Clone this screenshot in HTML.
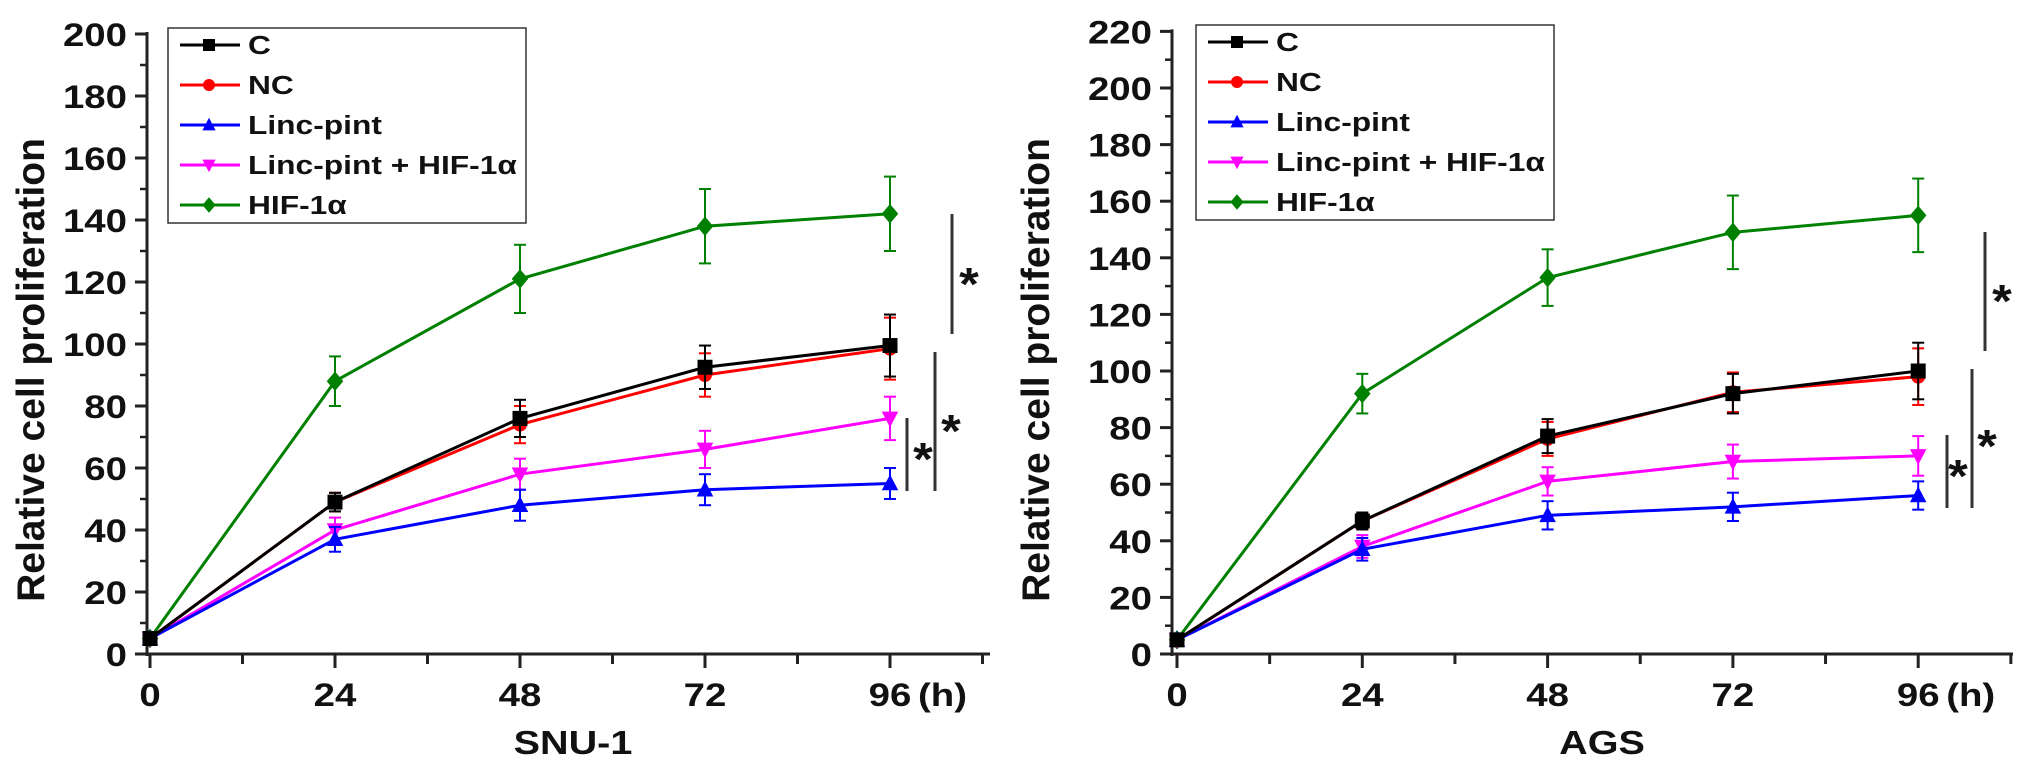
<!DOCTYPE html>
<html><head><meta charset="utf-8"><style>
html,body{margin:0;padding:0;background:#fff;}
svg{display:block;}
text{font-family:"Liberation Sans",Arial,sans-serif;font-weight:bold;fill:#111;}
</style></head><body>
<svg id="chart" width="2031" height="778" viewBox="0 0 2031 778" xmlns="http://www.w3.org/2000/svg"></svg>
<script>
const timepoints = [0, 24, 48, 72, 96];
const seriesNames = ["C", "NC", "Linc-pint", "Linc-pint + HIF-1\u03b1", "HIF-1\u03b1"];
const seriesColors = ["#000000", "#ff0000", "#0000ff", "#ff00ff", "#008000"];
const seriesMarkers = ["square", "circle", "triUp", "triDown", "diamond"];
// SNU-1
const snuC = [5, 49, 76, 92.5, 99.5];
const snuNC = [5, 49, 74, 90, 98.5];
const snuLinc = [5, 37, 48, 53, 55];
const snuLincHif = [5, 40, 58, 66, 76];
const snuHif = [5, 88, 121, 138, 142];
const snuErrC = [0, 3, 6, 7, 10];
const snuErrNC = [0, 3, 6, 7, 10];
const snuErrLinc = [0, 4, 5, 5, 5];
const snuErrLincHif = [0, 4, 5, 6, 7];
const snuErrHif = [0, 8, 11, 12, 12];
const snuYTicks = [0, 20, 40, 60, 80, 100, 120, 140, 160, 180, 200];
// AGS
const agsC = [5, 47, 77, 92, 100];
const agsNC = [5, 47, 76, 92.5, 98];
const agsLinc = [5, 37, 49, 52, 56];
const agsLincHif = [5, 38, 61, 68, 70];
const agsHif = [5, 92, 133, 149, 155];
const agsErrC = [0, 3, 6, 7, 10];
const agsErrNC = [0, 3, 6, 7, 10];
const agsErrLinc = [0, 4, 5, 5, 5];
const agsErrLincHif = [0, 4, 5, 6, 7];
const agsErrHif = [0, 7, 10, 13, 13];
const agsYTicks = [0, 20, 40, 60, 80, 100, 120, 140, 160, 180, 200, 220];

const NS = "http://www.w3.org/2000/svg";
const svg = document.getElementById("chart");
function mk(tag, attrs, parent) {
  const e = document.createElementNS(NS, tag);
  for (const k in attrs) e.setAttribute(k, attrs[k]);
  (parent || svg).appendChild(e);
  return e;
}
function txt(parent, str, x, y, size, anchor, sx) {
  const t = mk("text", {x: 0, y: 0, "text-anchor": anchor, "font-size": size, transform: `translate(${x},${y}) scale(${sx},1)`}, parent);
  t.textContent = str;
  return t;
}
function marker(g, type, cx, cy, color, s) {
  let e;
  if (type === "square") e = mk("rect", {x: cx - s/2, y: cy - s/2, width: s, height: s, fill: color}, g);
  else if (type === "circle") e = mk("circle", {cx: cx, cy: cy, r: s/2, fill: color}, g);
  else if (type === "triUp") e = mk("polygon", {points: `${cx},${cy - s*0.6} ${cx - s*0.55},${cy + s*0.45} ${cx + s*0.55},${cy + s*0.45}`, fill: color}, g);
  else if (type === "triDown") e = mk("polygon", {points: `${cx},${cy + s*0.6} ${cx - s*0.55},${cy - s*0.45} ${cx + s*0.55},${cy - s*0.45}`, fill: color}, g);
  else e = mk("polygon", {points: `${cx},${cy - s*0.65} ${cx + s*0.55},${cy} ${cx},${cy + s*0.65} ${cx - s*0.55},${cy}`, fill: color}, g);
  return e;
}

function drawPanel(cfg) {
  const g = mk("g", {});
  
  
  const xS = t => cfg.x0 + t * cfg.xPer;
  const yS = v => cfg.y0 - v * cfg.yPer;
  const ax = mk("g", {}, g);
  
  
  mk("line", {x1: cfg.axisX, y1: cfg.y0 + 2, x2: cfg.axisX, y2: yS(cfg.yTicks[cfg.yTicks.length - 1]) - 2, stroke: "#222", "stroke-width": 3}, ax);
  cfg.yTicks.forEach((v, i) => {
    mk("line", {x1: cfg.axisX - 12, y1: yS(v), x2: cfg.axisX, y2: yS(v), stroke: "#222", "stroke-width": 3}, ax);
    if (i < cfg.yTicks.length - 1) mk("line", {x1: cfg.axisX - 7, y1: yS(v + 10), x2: cfg.axisX, y2: yS(v + 10), stroke: "#222", "stroke-width": 2.5}, ax);
    const t = txt(ax, v, cfg.axisX - 20, yS(v) + 12, 32, "end", 1.2);
    
    
  });
  const xa = mk("g", {}, g);
  
  
  mk("line", {x1: cfg.axisX, y1: cfg.y0, x2: cfg.xEnd, y2: cfg.y0, stroke: "#222", "stroke-width": 3}, xa);
  for (let t = 0; t <= 108; t += 12) {
    const big = t % 24 === 0;
    mk("line", {x1: xS(t), y1: cfg.y0, x2: xS(t), y2: cfg.y0 + (big ? 14 : 10), stroke: "#222", "stroke-width": 3}, xa);
  }
  timepoints.forEach(t => {
    const tx = txt(xa, t, xS(t), cfg.y0 + 52, 32, "middle", 1.2);
    
    
  });
  const hu = txt(xa, "(h)", xS(96) + 28, cfg.y0 + 52, 32, "start", 1.2);
  
  
  const xt = txt(g, cfg.title, cfg.titleX, cfg.y0 + 100, 33, "middle", 1.2);
  
  
  const yt = mk("text", {x: 0, y: 0, "text-anchor": "middle", "font-size": 39, transform: `translate(${cfg.yTitleX},${cfg.yTitleY}) rotate(-90)`}, g);
  yt.textContent = "Relative cell proliferation";
  
  
  const order = [4, 3, 2, 1, 0];
  order.forEach(si => {
    const vals = cfg.series[si], errs = cfg.errs[si];
    const sg = mk("g", {}, g);
    
    
    const col = seriesColors[si];
    errs.forEach((e, i) => {
      if (!e) return;
      const x = xS(timepoints[i]);
      mk("line", {x1: x, y1: yS(vals[i] - e), x2: x, y2: yS(vals[i] + e), stroke: col, "stroke-width": 2}, sg);
      mk("line", {x1: x - 6, y1: yS(vals[i] + e), x2: x + 6, y2: yS(vals[i] + e), stroke: col, "stroke-width": 2}, sg);
      mk("line", {x1: x - 6, y1: yS(vals[i] - e), x2: x + 6, y2: yS(vals[i] - e), stroke: col, "stroke-width": 2}, sg);
    });
    const pts = vals.map((v, i) => xS(timepoints[i]) + "," + yS(v)).join(" ");
    const pl = mk("polyline", {points: pts, fill: "none", stroke: col, "stroke-width": 3}, sg);
    
    
    vals.forEach((v, i) => {
      const m = marker(sg, seriesMarkers[si], xS(timepoints[i]), yS(v), col, si === 1 ? 14 : 15);
      
      
    });
  });
  const lg = mk("g", {}, g);
  
  
  mk("rect", {x: cfg.lg.x, y: cfg.lg.y, width: cfg.lg.w, height: cfg.lg.h, fill: "#fff", stroke: "#333", "stroke-width": 1.5}, lg);
  seriesNames.forEach((n, i) => {
    const ry = cfg.lg.y + 17 + i * 40;
    const eg = mk("g", {}, lg);
    
    
    mk("line", {x1: cfg.lg.x + 12, y1: ry, x2: cfg.lg.x + 72, y2: ry, stroke: seriesColors[i], "stroke-width": 3}, eg);
    marker(eg, seriesMarkers[i], cfg.lg.x + 41, ry, seriesColors[i], 12);
    txt(eg, n, cfg.lg.x + 80, ry + 9, 26, "start", 1.22);
  });
  cfg.sig.forEach(s => {
    const bg = mk("g", {}, g);
    
    
    mk("line", {x1: s[0], y1: s[1], x2: s[0], y2: s[2], stroke: "#333", "stroke-width": 3}, bg);
    txt(bg, "*", s[3], s[4] + 22, 46, "middle", 1.1);
  });
}

drawPanel({
  name: "snu1-panel", x0: 150, xPer: 185 / 24, axisX: 147, xEnd: 990, y0: 654, yPer: 3.1,
  yTicks: snuYTicks, title: "SNU-1", titleX: 573, yTitleX: 44, yTitleY: 370,
  series: [snuC, snuNC, snuLinc, snuLincHif, snuHif],
  errs: [snuErrC, snuErrNC, snuErrLinc, snuErrLincHif, snuErrHif],
  lg: {x: 168, y: 28, w: 358, h: 195},
  sig: [[952, 214, 334, 969, 278], [935, 352, 491, 951, 425], [907, 418, 491, 923, 453]]
});
drawPanel({
  name: "ags-panel", x0: 1177, xPer: 185.3 / 24, axisX: 1172, xEnd: 2013, y0: 654, yPer: 2.83,
  yTicks: agsYTicks, title: "AGS", titleX: 1602, yTitleX: 1049, yTitleY: 370,
  series: [agsC, agsNC, agsLinc, agsLincHif, agsHif],
  errs: [agsErrC, agsErrNC, agsErrLinc, agsErrLincHif, agsErrHif],
  lg: {x: 1196, y: 25, w: 358, h: 195},
  sig: [[1985, 232, 351, 2002, 295], [1972, 369, 508, 1987, 440], [1947, 435, 508, 1958, 470]]
});
</script>
</body></html>
